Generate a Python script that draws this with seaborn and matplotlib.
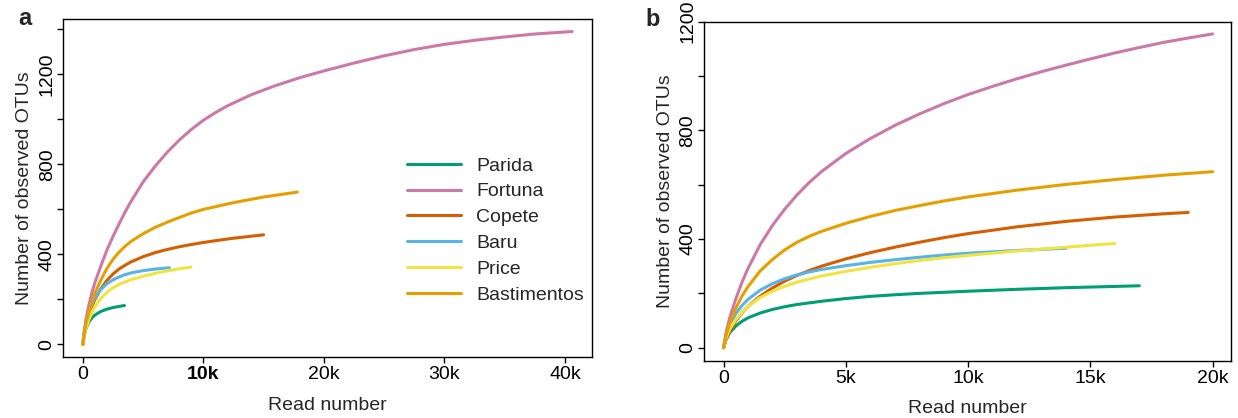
import matplotlib
matplotlib.use("Agg")
import matplotlib.pyplot as plt
import seaborn as sns
import pandas as pd

sites = ["Parida", "Fortuna", "Copete", "Baru", "Price", "Bastimentos"]
colors = ["#009E73", "#CC79A7", "#D55E00", "#56B4E9", "#F0E442", "#E69F00"]

# ---- panel a ----
a_parida_x = [0, 100, 250, 500, 750, 1000, 1500, 2000, 2500, 3000, 3450]
a_parida_y = [0, 38, 70, 100, 118, 131, 147, 157, 164, 169, 173]
a_fortuna_x = [0, 100, 250, 500, 750, 1000, 1500, 2000, 2500, 3000, 3500, 4000, 5000, 6000, 7000,
               8000, 9000, 10000, 11000, 12000, 14000, 16000, 18000, 20000, 22500, 25000, 27500,
               30000, 32500, 35000, 37500, 40600]
a_fortuna_y = [0, 55, 110, 175, 230, 275, 350, 420, 480, 535, 588, 636, 722, 792, 854,
               908, 955, 996, 1030, 1060, 1110, 1150, 1185, 1215, 1250, 1282, 1310,
               1333, 1351, 1366, 1379, 1390]
a_copete_x = [0, 100, 250, 500, 750, 1000, 1500, 2000, 2500, 3000, 3500, 4000, 5000, 6000, 7000,
              8000, 9000, 10000, 11000, 12500, 15000]
a_copete_y = [0, 40, 80, 130, 170, 200, 248, 285, 313, 335, 352, 367, 390, 408, 422,
              434, 444, 453, 461, 472, 487]
a_baru_x = [0, 100, 250, 500, 750, 1000, 1500, 2000, 2500, 3000, 3500, 4000, 5000, 6000, 7170]
a_baru_y = [0, 45, 90, 140, 180, 208, 245, 270, 287, 300, 310, 318, 328, 335, 341]
a_price_x = [0, 100, 250, 500, 750, 1000, 1500, 2000, 2500, 3000, 4000, 5000, 6000, 7000, 8000, 8970]
a_price_y = [0, 35, 70, 110, 142, 167, 205, 232, 252, 267, 288, 303, 316, 327, 336, 344]
a_bast_x = [0, 100, 250, 500, 750, 1000, 1500, 2000, 2500, 3000, 3500, 4000, 5000, 6000, 7000,
            8000, 9000, 10000, 12500, 15000, 17800]
a_bast_y = [0, 45, 90, 145, 190, 228, 287, 338, 378, 410, 436, 458, 492, 520, 543,
            564, 584, 600, 630, 655, 677]

# ---- panel b ----
b_parida_x = [0, 100, 250, 500, 750, 1000, 1500, 2000, 2500, 3000, 4000, 5000, 6000, 7000, 8000,
              10000, 12000, 14000, 17000]
b_parida_y = [0, 30, 55, 80, 97, 110, 128, 141, 151, 159, 171, 181, 189, 195, 200,
              208, 215, 221, 228]
b_fortuna_x = [0, 100, 250, 500, 750, 1000, 1500, 2000, 2500, 3000, 3500, 4000, 5000, 6000, 7000,
               8000, 9000, 10000, 11000, 12000, 13000, 14000, 15000, 16000, 17000, 18000, 19000, 20000]
b_fortuna_y = [0, 55, 110, 180, 240, 292, 380, 450, 510, 562, 608, 648, 715, 770, 818,
               860, 898, 932, 962, 990, 1016, 1040, 1063, 1085, 1105, 1124, 1140, 1155]
b_copete_x = [0, 100, 250, 500, 750, 1000, 1500, 2000, 2500, 3000, 3500, 4000, 5000, 6000, 7000,
              8000, 9000, 10000, 12000, 14000, 16000, 18000, 19000]
b_copete_y = [0, 30, 60, 98, 128, 152, 190, 220, 245, 266, 284, 300, 327, 350, 370,
              388, 405, 420, 445, 465, 481, 493, 498]
b_baru_x = [0, 100, 250, 500, 750, 1000, 1500, 2000, 2500, 3000, 3500, 4000, 5000, 6000, 7000,
            8000, 9000, 10000, 12000, 14000]
b_baru_y = [0, 45, 85, 125, 155, 178, 212, 236, 254, 268, 279, 288, 302, 314, 324,
            333, 341, 348, 358, 366]
b_price_x = [0, 100, 250, 500, 750, 1000, 1500, 2000, 2500, 3000, 3500, 4000, 5000, 6000, 7000,
             8000, 9000, 10000, 12000, 14000, 16000]
b_price_y = [0, 35, 68, 103, 130, 152, 185, 208, 226, 241, 253, 264, 281, 296, 309,
             321, 331, 340, 356, 370, 384]
b_bast_x = [0, 100, 250, 500, 750, 1000, 1500, 2000, 2500, 3000, 3500, 4000, 5000, 6000, 7000,
            8000, 9000, 10000, 12000, 14000, 16000, 18000, 20000]
b_bast_y = [0, 45, 90, 145, 190, 225, 283, 325, 360, 388, 410, 428, 458, 483, 505,
            523, 540, 555, 580, 601, 619, 635, 648]

a_x_ticks = [0, 10000, 20000, 30000, 40000]
a_x_labels = ["0", "10k", "20k", "30k", "40k"]
b_x_ticks = [0, 5000, 10000, 15000, 20000]
b_x_labels = ["0", "5k", "10k", "15k", "20k"]
a_y_ticks = [0, 200, 400, 600, 800, 1000, 1200, 1400]
b_y_ticks = [0, 200, 400, 600, 800, 1000, 1200]


def long_df(series):
    rows = []
    for site, xs, ys in series:
        for x, y in zip(xs, ys):
            rows.append({"site": site, "reads": x, "otus": y})
    return pd.DataFrame(rows)


df_a = long_df([
    ("Parida", a_parida_x, a_parida_y),
    ("Fortuna", a_fortuna_x, a_fortuna_y),
    ("Copete", a_copete_x, a_copete_y),
    ("Baru", a_baru_x, a_baru_y),
    ("Price", a_price_x, a_price_y),
    ("Bastimentos", a_bast_x, a_bast_y),
])
df_b = long_df([
    ("Parida", b_parida_x, b_parida_y),
    ("Fortuna", b_fortuna_x, b_fortuna_y),
    ("Copete", b_copete_x, b_copete_y),
    ("Baru", b_baru_x, b_baru_y),
    ("Price", b_price_x, b_price_y),
    ("Bastimentos", b_bast_x, b_bast_y),
])

sns.set_theme(style="white")
plt.rcParams["font.family"] = ["Liberation Sans", "DejaVu Sans"]
plt.rcParams["font.size"] = 14

W, H = 1238, 418
fig = plt.figure(figsize=(W / 100, H / 100), dpi=100)
ax_a = fig.add_axes([63.3 / W, 1 - 357 / H, (591.7 - 63.3) / W, (357 - 19) / H])
ax_b = fig.add_axes([704 / W, 1 - 360.5 / H, (1231 - 704) / W, (360.5 - 21.7) / H])

palette = dict(zip(sites, colors))

for ax, df in [(ax_a, df_a), (ax_b, df_b)]:
    sns.lineplot(data=df, x="reads", y="otus", hue="site", hue_order=sites,
                 palette=palette, linewidth=2.2, ax=ax, legend=(ax is ax_a),
                 estimator=None, sort=True)

ax_a.set_xlim(-1624, 42224)
ax_a.set_ylim(-55.6, 1445.6)
ax_b.set_xlim(-800, 20750)
ax_b.set_ylim(-47, 1200)

ax_a.set_xticks(a_x_ticks)
ax_a.set_xticklabels(a_x_labels)
ax_a.get_xticklabels()[1].set_fontweight("bold")
ax_b.set_xticks(b_x_ticks)
ax_b.set_xticklabels(b_x_labels)

for ax, yt in [(ax_a, a_y_ticks), (ax_b, b_y_ticks)]:
    ax.set_yticks(yt)
    ax.set_yticklabels([str(v) if v % 400 == 0 else "" for v in yt],
                       rotation=90, va="center")
    ax.tick_params(axis="both", which="major", direction="out", length=4,
                   width=1, color="black", labelsize=14, labelcolor="black",
                   left=True, bottom=True)
    ax.tick_params(axis="x", pad=2.5)
    ax.tick_params(axis="y", pad=1.5)
    for s in ax.spines.values():
        s.set_visible(True)
        s.set_color("black")
        s.set_linewidth(1.0)
    ax.set_xlabel("Read number", fontsize=14, labelpad=10)
    ax.set_ylabel("Number of observed OTUs", fontsize=14, labelpad=4)
    ax.grid(False)

leg = ax_a.legend(loc="upper left", bbox_to_anchor=(407 / W, 1 - 157 / H),
                  bbox_transform=fig.transFigure, frameon=False, fontsize=14,
                  handlelength=2.8, handletextpad=0.75, labelspacing=0.42,
                  borderpad=0, borderaxespad=0)
for line in leg.get_lines():
    line.set_linewidth(2.2)

fig.text(18 / W, 1 - 25 / H, "a", fontsize=17, fontweight="bold", va="baseline")
fig.text(645 / W, 1 - 26 / H, "b", fontsize=17, fontweight="bold", va="baseline")

fig.savefig("out.png", dpi=100)
